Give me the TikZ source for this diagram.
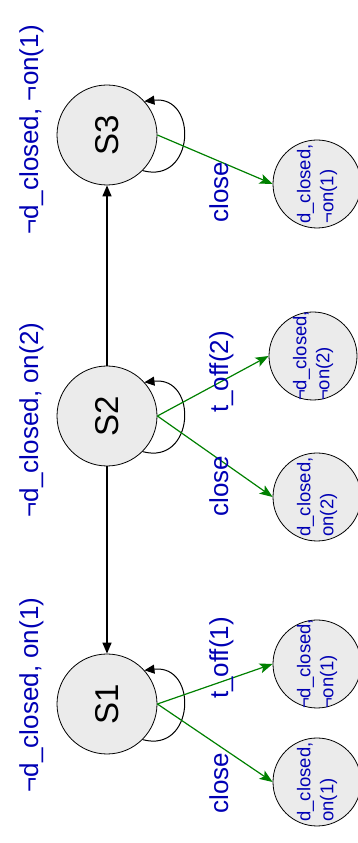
\documentclass[tikz,border=0pt]{standalone}
\usepackage{fontspec}
\setmainfont{Liberation Sans}
\usetikzlibrary{arrows.meta}
\definecolor{lblue}{RGB}{0,0,180}
\definecolor{lgreen}{RGB}{0,128,0}
\definecolor{sfill}{RGB}{235,235,235}
\begin{document}
\begin{tikzpicture}[x=1pt,y=1pt,
  state/.style={circle,draw=black,fill=sfill,line width=0.8pt,minimum size=100pt,inner sep=0pt},
  small/.style={circle,draw=black,fill=sfill,line width=0.8pt,minimum size=88pt,inner sep=0pt},
  stext/.style={rotate=90,font=\fontsize{33}{36}\selectfont,text=black,inner sep=0pt},
  smtext/.style={rotate=90,font=\fontsize{18.5}{23}\selectfont,text=lblue,align=left,inner sep=0pt},
  blab/.style={rotate=90,anchor=base,font=\fontsize{26}{30}\selectfont,text=lblue,inner sep=0pt},
  elab/.style={rotate=90,anchor=base,font=\fontsize{26}{30}\selectfont,text=lblue,inner sep=0pt},
  barrow/.style={draw=black,line width=1.5pt,-{Triangle[length=11pt,width=9pt]}},
  garrow/.style={draw=lgreen,line width=1.2pt,-{Stealth[length=13pt,width=10pt,inset=3pt]}},
  sloop/.style={draw=black,line width=1pt,-{Triangle[length=10pt,width=9pt]}}
]
\useasboundingbox (0,0) rectangle (357,843);

% states
\node[state] (S3) at (107,708) {};
\node[state] (S2) at (107,427) {};
\node[state] (S1) at (107,139) {};
\node[stext] (tS3) at (S3.center) {S3};
\node[stext] (tS2) at (S2.center) {S2};
\node[stext] (tS1) at (S1.center) {S1};

% small result states
\node[small] (A3) at (317,659) {};
\node[small] (C2) at (313,487) {};
\node[small] (B2) at (317,346) {};
\node[small] (C1) at (317,179) {};
\node[small] (B1) at (317,61) {};
\node[smtext] (tA3) at (A3.center) {d\_closed,\\¬on(1)};
\node[smtext] (tC2) at (C2.center) {¬d\_closed,\\¬on(2)};
\node[smtext] (tB2) at (B2.center) {d\_closed,\\on(2)};
\node[smtext] (tC1) at (C1.center) {¬d\_closed,\\¬on(1)};
\node[smtext] (tB1) at (B1.center) {d\_closed,\\on(1)};

% state labels
\node[blab] (L3) at (38,713) {¬d\_closed, ¬on(1)};
\node[blab] (L2) at (38,423) {¬d\_closed, on(2)};
\node[blab] (L1) at (38,148) {¬d\_closed, on(1)};

% black transitions
\draw[barrow] (S2.north) -- (S3.south);
\draw[barrow] (S2.south) -- (S1.north);

% self loops
\draw[sloop] (S3.-45) .. controls +(52,-14) and +(54,6) .. (S3.42);
\draw[sloop] (S2.-45) .. controls +(52,-14) and +(54,6) .. (S2.42);
\draw[sloop] (S1.-45) .. controls +(52,-14) and +(54,6) .. (S1.42);

% green transitions
\draw[garrow] (S3.east) -- (A3.west);
\draw[garrow] (S2.east) -- (C2.west);
\draw[garrow] (S2.east) -- (B2.west);
\draw[garrow] (S1.east) -- (C1.west);
\draw[garrow] (S1.east) -- (B1.west);

% edge labels
\node[elab] (e3) at (228,651) {close};
\node[elab] (e2a) at (228,471) {t\_off(2)};
\node[elab] (e2b) at (228,357) {close};
\node[elab] (e1a) at (228,185) {t\_off(1)};
\node[elab] (e1b) at (228,60) {close};
\end{tikzpicture}
\end{document}
